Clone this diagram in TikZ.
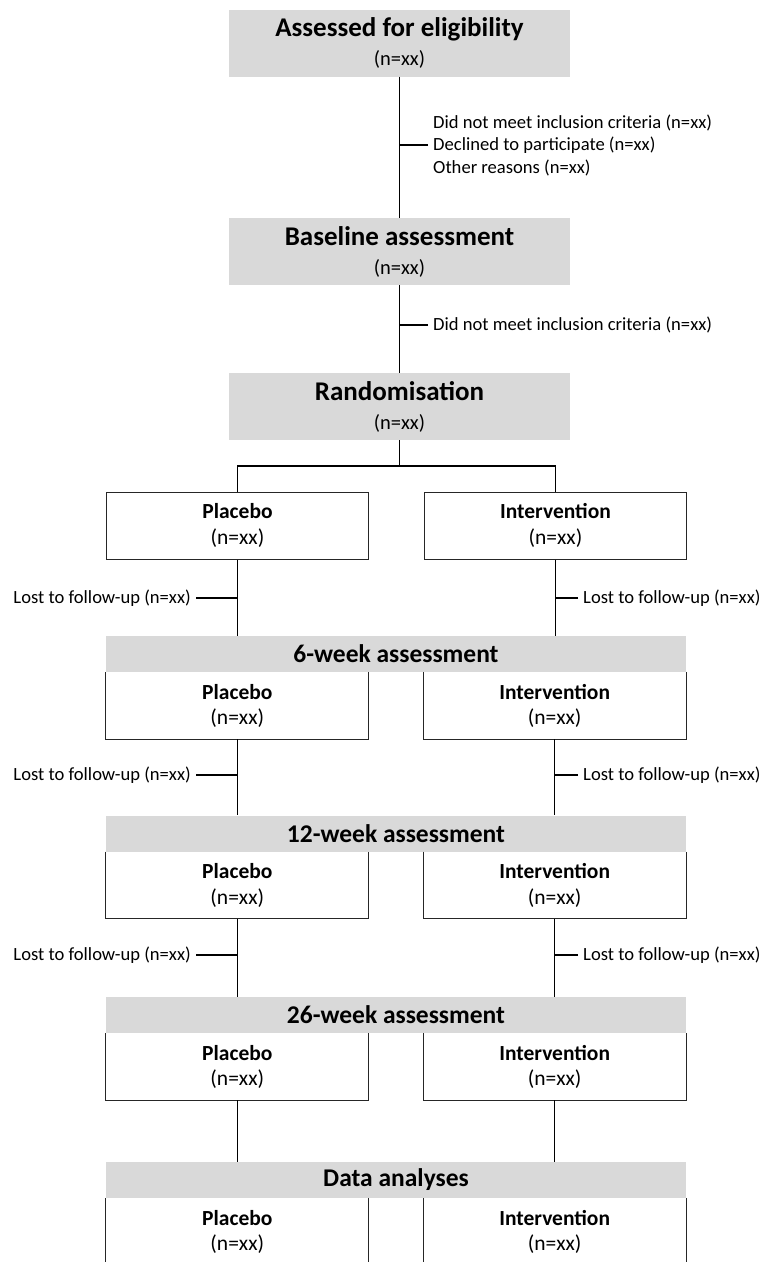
\documentclass[tikz,border=0pt]{standalone}
\usepackage{fontspec}
\setmainfont{Carlito}
\usetikzlibrary{positioning}
\definecolor{stagegray}{RGB}{217,217,217}
\newcommand{\stagetitle}[1]{{\fontsize{27}{29}\selectfont\bfseries #1}}

\begin{document}
\begin{tikzpicture}[x=1pt,y=-1pt]
        \tikzstyle{stage} = [rectangle, fill=stagegray, text centered, align=center, inner sep=0pt, minimum height=67pt, minimum width=341pt, font=\fontsize{20.5}{29}\selectfont]
        \tikzstyle{bar} = [rectangle, fill=stagegray, text centered, inner sep=0pt, minimum height=36pt, minimum width=580pt, font=\fontsize{25.5}{29}\selectfont\bfseries]
        \tikzstyle{arm} = [rectangle, draw=black!85, line width=1pt, text centered, align=center, inner sep=0pt, minimum height=67pt, minimum width=262pt, font=\fontsize{21.5}{25.5}\selectfont]
        \tikzstyle{armopen} = [arm, draw=none, minimum height=66pt]
        \tikzstyle{note} = [inner sep=5pt, align=left, font=\fontsize{18.6}{22.5}\selectfont]
        \tikzstyle{line} = [line width=1.3pt]
        \tikzstyle{border} = [draw=black!85, line width=1pt]

        \useasboundingbox (0,0) rectangle (766,1262);

        \node (elig) [stage] at (399.5,43) {\stagetitle{Assessed for eligibility}\\(n=xx)};
        \node (baseline) [stage] at (399.5,251.5) {\stagetitle{Baseline assessment}\\(n=xx)};
        \node (rand) [stage] at (399.5,406.5) {\stagetitle{Randomisation}\\(n=xx)};

        \node (excl1) [note, anchor=west] at (428,145) {Did not meet inclusion criteria (n=xx)\\Declined to participate (n=xx)\\Other reasons (n=xx)};
        \node (excl2) [note, anchor=west] at (428,325) {Did not meet inclusion criteria (n=xx)};

        \draw [line] (elig) -- (baseline);
        \draw [line] (baseline) -- (rand);
        \draw [line] (excl1.west) -- (excl1.west -| elig.south);
        \draw [line] (excl2.west) -- (excl2.west -| baseline.south);

        \node (plac0) [arm] at (237.5,525.5) {\textbf{Placebo}\\(n=xx)};
        \node (interv0) [arm] at (555.5,525.5) {\textbf{Intervention}\\(n=xx)};
        \coordinate (split) at (399.5,466);
        \draw [line] (rand) -- (split);
        \draw [line] (plac0.north) |- (split) -| (interv0.north);

        \node (week6) [bar] at (396,654) {6-week assessment};
        \node (plac6) [armopen, below right=0pt and 0pt of week6.south west] {\textbf{Placebo}\\(n=xx)};
        \node (interv6) [armopen, below left=0pt and 0pt of week6.south east] {\textbf{Intervention}\\(n=xx)};
        \draw [border] (plac6.north west) |- (plac6.south east) -- (plac6.north east);
        \draw [border] (interv6.north west) |- (interv6.south east) -- (interv6.north east);

        \node (week12) [bar] at (396,833.5) {12-week assessment};
        \node (plac12) [armopen, below right=0pt and 0pt of week12.south west] {\textbf{Placebo}\\(n=xx)};
        \node (interv12) [armopen, below left=0pt and 0pt of week12.south east] {\textbf{Intervention}\\(n=xx)};
        \draw [border] (plac12.north west) |- (plac12.south east) -- (plac12.north east);
        \draw [border] (interv12.north west) |- (interv12.south east) -- (interv12.north east);

        \node (week26) [bar] at (396,1015) {26-week assessment};
        \node (plac26) [armopen, below right=0pt and 0pt of week26.south west] {\textbf{Placebo}\\(n=xx)};
        \node (interv26) [armopen, below left=0pt and 0pt of week26.south east] {\textbf{Intervention}\\(n=xx)};
        \draw [border] (plac26.north west) |- (plac26.south east) -- (plac26.north east);
        \draw [border] (interv26.north west) |- (interv26.south east) -- (interv26.north east);

        \node (data) [bar] at (396,1180) {Data analyses};
        \node (placd) [armopen, below right=0pt and 0pt of data.south west] {\textbf{Placebo}\\(n=xx)};
        \node (intervd) [armopen, below left=0pt and 0pt of data.south east] {\textbf{Intervention}\\(n=xx)};
        \draw [border] (placd.north west) |- (placd.south east) -- (placd.north east);
        \draw [border] (intervd.north west) |- (intervd.south east) -- (intervd.north east);

        \draw [line] (plac0.south) -- (plac0.south |- week6.north);
        \draw [line] (interv0.south) -- (interv0.south |- week6.north);
        \draw [line] (plac6.south) -- (plac6.south |- week12.north);
        \draw [line] (interv6.south) -- (interv6.south |- week12.north);
        \draw [line] (plac12.south) -- (plac12.south |- week26.north);
        \draw [line] (interv12.south) -- (interv12.south |- week26.north);
        \draw [line] (plac26.south) -- (plac26.south |- data.north);
        \draw [line] (interv26.south) -- (interv26.south |- data.north);

        \node (lostp0) [note, anchor=east] at (196,598) {Lost to follow-up (n=xx)};
        \node (losti0) [note, anchor=west] at (578,598) {Lost to follow-up (n=xx)};
        \node (lostp6) [note, anchor=east] at (196,775) {Lost to follow-up (n=xx)};
        \node (losti6) [note, anchor=west] at (578,775) {Lost to follow-up (n=xx)};
        \node (lostp12) [note, anchor=east] at (196,955) {Lost to follow-up (n=xx)};
        \node (losti12) [note, anchor=west] at (578,955) {Lost to follow-up (n=xx)};

        \draw [line] (lostp0.east) -- (lostp0.east -| plac0.south);
        \draw [line] (losti0.west) -- (losti0.west -| interv0.south);
        \draw [line] (lostp6.east) -- (lostp6.east -| plac6.south);
        \draw [line] (losti6.west) -- (losti6.west -| interv6.south);
        \draw [line] (lostp12.east) -- (lostp12.east -| plac12.south);
        \draw [line] (losti12.west) -- (losti12.west -| interv12.south);
\end{tikzpicture}
\end{document}
